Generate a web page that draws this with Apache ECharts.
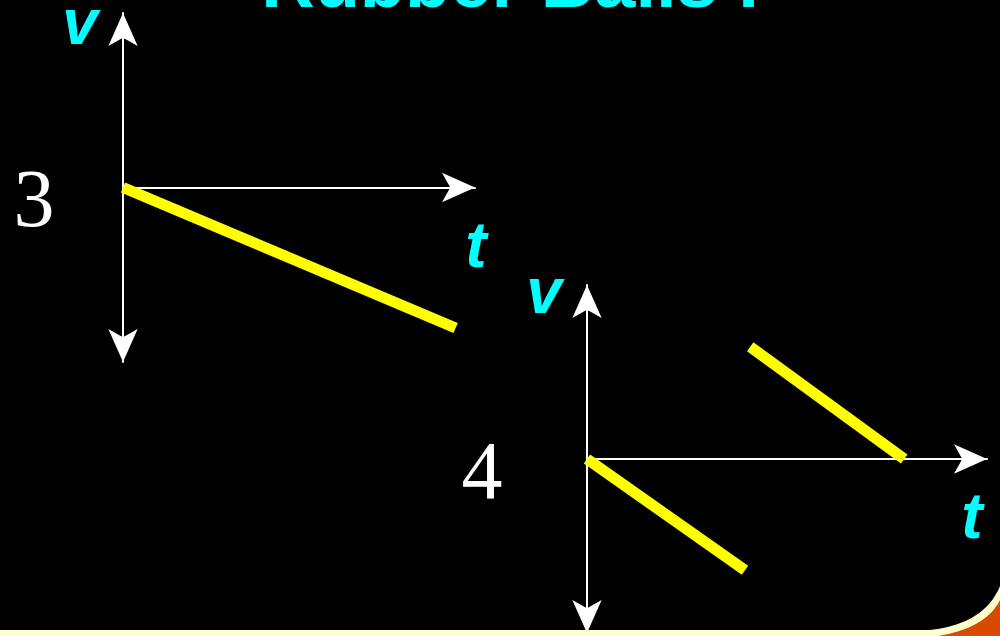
<!DOCTYPE html>
<html>
<head>
<meta charset="utf-8">
<script src="https://cdn.jsdelivr.net/npm/echarts@6/dist/echarts.min.js"></script>
<style>
html,body{margin:0;padding:0;background:#000;}
#c{width:1000px;height:636px;}
</style>
</head>
<body>
<div id="c"></div>
<script>
// ---- data ----
const titleText = 'Rubber Balls I';
const panelLabels = ['3', '4'];
const axisNames = { v: 'v', t: 't' };
// graph 3: v vs t (t 0..10, v -10..10)
const graph3Line = [[0, 0], [9.45, -8.05]];
// graph 4: two segments
const graph4Seg1 = [[0, 0], [3.95, -6.4]];
const graph4Seg2 = [[4.08, 6.45], [7.93, 0]];

const chart = echarts.init(document.getElementById('c'), null, { renderer: 'canvas' });

function xAx(gi) {
  return {
    type: 'value', gridIndex: gi, min: 0, max: 10,
    axisLine: { show: true, onZero: true, symbol: ['none', 'arrow'], symbolSize: [22, 33],
      lineStyle: { color: '#ffffff', width: 2 } },
    axisTick: { show: false }, axisLabel: { show: false }, splitLine: { show: false }
  };
}
function yAx(gi) {
  return {
    type: 'value', gridIndex: gi, min: -10, max: 10,
    axisLine: { show: true, onZero: true, symbol: ['arrow', 'arrow'], symbolSize: [22, 33],
      lineStyle: { color: '#ffffff', width: 2 } },
    axisTick: { show: false }, axisLabel: { show: false }, splitLine: { show: false }
  };
}
function seg(gi, data) {
  return {
    type: 'line', xAxisIndex: gi, yAxisIndex: gi, data: data,
    showSymbol: false, symbol: 'none', animation: false, z: 5,
    lineStyle: { color: '#ffff00', width: 11, cap: 'butt' }
  };
}
// decorative quadratic curve helper for the slide corner
function quadPts(p0, c, p1, n) {
  const pts = [];
  for (let i = 0; i <= n; i++) {
    const s = i / n, a = (1 - s) * (1 - s), b = 2 * (1 - s) * s, d = s * s;
    pts.push([a * p0[0] + b * c[0] + d * p1[0], a * p0[1] + b * c[1] + d * p1[1]]);
  }
  return pts;
}
const creamPts = [[905, 636]].concat(quadPts([912, 631], [982, 630], [1000, 586], 30)).concat([[1000, 636]]);
const orangePts = quadPts([938, 636], [986, 628], [1000, 600], 30).concat([[1000, 636]]);

const textStyleCyan = { fill: '#00ffff', font: 'italic bold 64px "Liberation Sans", Arial, sans-serif', align: 'center', verticalAlign: 'middle' };
const digitFont = '82px "Liberation Serif", "Times New Roman", serif';

chart.setOption({
  backgroundColor: '#000000',
  animation: false,
  grid: [
    { left: 123, top: 13, width: 352, height: 349 },
    { left: 587, top: 285, width: 400, height: 348 }
  ],
  xAxis: [xAx(0), xAx(1)],
  yAxis: [yAx(0), yAx(1)],
  series: [seg(0, graph3Line), seg(1, graph4Seg1), seg(1, graph4Seg2)],
  graphic: [
    { type: 'rect', z: -1, shape: { x: 0, y: 630, width: 1000, height: 6 }, style: { fill: '#ffffcc' } },
    { type: 'polygon', z: -1, shape: { points: creamPts }, style: { fill: '#ffffcc' } },
    { type: 'polygon', z: -1, shape: { points: orangePts }, style: { fill: '#d84a00' } },
    { type: 'text', x: 510, y: -13, style: { text: titleText, fill: '#00ffff', font: 'bold 74px "Liberation Sans", Arial, sans-serif', align: 'center', verticalAlign: 'middle' } },
    { type: 'text', x: 34, y: 204, style: { text: panelLabels[0], fill: '#ffffff', font: digitFont, align: 'center', verticalAlign: 'middle' } },
    { type: 'text', x: 482, y: 476, style: { text: panelLabels[1], fill: '#ffffff', font: digitFont, align: 'center', verticalAlign: 'middle' } },
    { type: 'text', x: 80, y: 26, style: Object.assign({ text: axisNames.v }, textStyleCyan) },
    { type: 'text', x: 476, y: 249, style: Object.assign({ text: axisNames.t }, textStyleCyan) },
    { type: 'text', x: 544, y: 295, style: Object.assign({ text: axisNames.v }, textStyleCyan) },
    { type: 'text', x: 972, y: 520, style: Object.assign({ text: axisNames.t }, textStyleCyan) }
  ]
});
</script>
</body>
</html>
